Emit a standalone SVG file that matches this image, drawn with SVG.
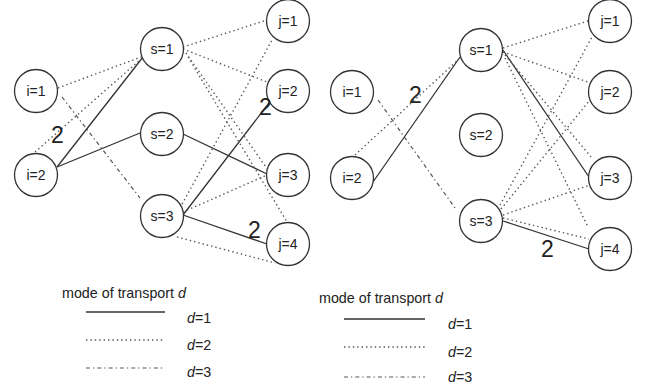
<svg xmlns="http://www.w3.org/2000/svg" width="645" height="385" viewBox="0 0 645 385">
<style>
.n circle{fill:#fff;stroke:#333;stroke-width:1.3}
.n text{font-family:"Liberation Sans",Arial,sans-serif;font-size:14px;fill:#222;text-anchor:middle}
.s{stroke:#333;stroke-width:1.3;fill:none}
.d{stroke:#555;stroke-width:1.4;fill:none;stroke-dasharray:1.4 3;stroke-linecap:butt}
.c{stroke:#555;stroke-width:1.2;fill:none;stroke-dasharray:4 3 1.3 3}
.w{font-family:"Liberation Sans",Arial,sans-serif;font-size:23px;fill:#222}
.lg{font-family:"Liberation Sans",Arial,sans-serif;font-size:14.3px;fill:#222}
</style>
<rect width="645" height="385" fill="#fff"/>
<g id="connectors">
<line class="s" x1="57" y1="167" x2="143" y2="57"/>
<line class="s" x1="57" y1="167" x2="140" y2="133"/>
<line class="s" x1="183" y1="134" x2="267" y2="174"/>
<line class="s" x1="183" y1="215" x2="272" y2="99"/>
<line class="s" x1="183" y1="215" x2="267" y2="244"/>
<line class="d" x1="58" y1="88" x2="141" y2="57"/>
<line class="d" x1="35" y1="152" x2="140" y2="60"/>
<line class="d" x1="183" y1="47" x2="267" y2="20"/>
<line class="d" x1="183" y1="49" x2="267" y2="82"/>
<line class="d" x1="186" y1="53" x2="268" y2="170"/>
<line class="d" x1="188" y1="57" x2="287" y2="222"/>
<line class="d" x1="180" y1="208" x2="272" y2="40"/>
<line class="d" x1="183" y1="212" x2="267" y2="175"/>
<line class="d" x1="177" y1="237" x2="275" y2="263"/>
<line class="c" x1="62" y1="97" x2="140" y2="198"/>
<line class="s" x1="373" y1="182" x2="460" y2="57"/>
<line class="s" x1="503" y1="50" x2="589" y2="177"/>
<line class="s" x1="503" y1="221" x2="589" y2="249"/>
<line class="d" x1="355" y1="155" x2="459" y2="59"/>
<line class="d" x1="503" y1="48" x2="588" y2="21"/>
<line class="d" x1="503" y1="52" x2="588" y2="82"/>
<line class="d" x1="505" y1="55" x2="592" y2="158"/>
<line class="d" x1="505" y1="58" x2="588" y2="227"/>
<line class="d" x1="500" y1="205" x2="592" y2="37"/>
<line class="d" x1="501" y1="209" x2="590" y2="100"/>
<line class="d" x1="503" y1="215" x2="590" y2="185"/>
<line class="d" x1="503" y1="218" x2="589" y2="239"/>
<line class="c" x1="378" y1="100" x2="455" y2="208"/>
</g>
<g id="left-i1" class="n"><circle cx="36" cy="91" r="21.5"/><text x="36" y="96">i=1</text></g>
<g id="left-i2" class="n"><circle cx="36" cy="175" r="21.5"/><text x="36" y="180">i=2</text></g>
<g id="left-s1" class="n"><circle cx="162" cy="49" r="21.5"/><text x="162" y="54">s=1</text></g>
<g id="left-s2" class="n"><circle cx="162" cy="134" r="21.5"/><text x="162" y="139">s=2</text></g>
<g id="left-s3" class="n"><circle cx="162" cy="216" r="21.5"/><text x="162" y="221">s=3</text></g>
<g id="left-j1" class="n"><circle cx="288" cy="21" r="21.5"/><text x="288" y="26">j=1</text></g>
<g id="left-j2" class="n"><circle cx="288" cy="91" r="21.5"/><text x="288" y="96">j=2</text></g>
<g id="left-j3" class="n"><circle cx="288" cy="175" r="21.5"/><text x="288" y="180">j=3</text></g>
<g id="left-j4" class="n"><circle cx="288" cy="244" r="21.5"/><text x="288" y="249">j=4</text></g>
<g id="right-i1" class="n"><circle cx="352" cy="92" r="21.5"/><text x="352" y="97">i=1</text></g>
<g id="right-i2" class="n"><circle cx="352" cy="178" r="21.5"/><text x="352" y="183">i=2</text></g>
<g id="right-s1" class="n"><circle cx="481" cy="50" r="21.5"/><text x="481" y="55">s=1</text></g>
<g id="right-s2" class="n"><circle cx="481" cy="135" r="21.5"/><text x="481" y="140">s=2</text></g>
<g id="right-s3" class="n"><circle cx="481" cy="221" r="21.5"/><text x="481" y="226">s=3</text></g>
<g id="right-j1" class="n"><circle cx="610" cy="21" r="21.5"/><text x="610" y="26">j=1</text></g>
<g id="right-j2" class="n"><circle cx="610" cy="92" r="21.5"/><text x="610" y="97">j=2</text></g>
<g id="right-j3" class="n"><circle cx="610" cy="178" r="21.5"/><text x="610" y="183">j=3</text></g>
<g id="right-j4" class="n"><circle cx="610" cy="249" r="21.5"/><text x="610" y="254">j=4</text></g>
<g id="edge-labels">
<text class="w" x="51" y="143">2</text>
<text class="w" x="259" y="115">2</text>
<text class="w" x="248" y="238">2</text>
<text class="w" x="409" y="103">2</text>
<text class="w" x="541" y="257">2</text>
</g>
<g id="legend-left">
<text class="lg" x="62" y="298">mode of transport <tspan font-style="italic">d</tspan></text>
<line class="s" x1="86" y1="312" x2="165" y2="312"/>
<line class="d" x1="86" y1="340" x2="165" y2="340"/>
<line class="c" x1="86" y1="368" x2="165" y2="368"/>
<text class="lg" x="187" y="323"><tspan font-style="italic">d</tspan>=1</text>
<text class="lg" x="187" y="350"><tspan font-style="italic">d</tspan>=2</text>
<text class="lg" x="187" y="377"><tspan font-style="italic">d</tspan>=3</text>
</g>
<g id="legend-right">
<text class="lg" x="319" y="303">mode of transport <tspan font-style="italic">d</tspan></text>
<line class="s" x1="344" y1="319" x2="425" y2="319"/>
<line class="d" x1="344" y1="347" x2="425" y2="347"/>
<line class="c" x1="344" y1="377" x2="425" y2="377"/>
<text class="lg" x="448" y="329"><tspan font-style="italic">d</tspan>=1</text>
<text class="lg" x="448" y="357"><tspan font-style="italic">d</tspan>=2</text>
<text class="lg" x="448" y="382"><tspan font-style="italic">d</tspan>=3</text>
</g>
</svg>
